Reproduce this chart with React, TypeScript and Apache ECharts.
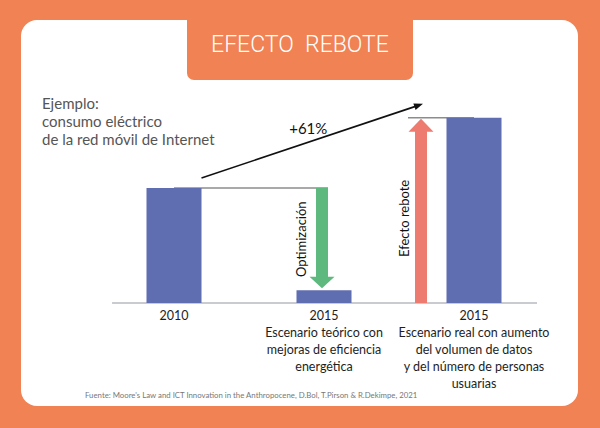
import React, { useEffect, useRef } from 'react';
import * as echarts from 'echarts';

const categories = ['2010', '2015 teórico', '2015 real'];
const yearLabels = ['2010', '2015', '2015'];
const scenarioLabels = [
  '',
  'Escenario teórico con\nmejoras de eficiencia\nenergética',
  'Escenario real con aumento\ndel volumen de datos\ny del número de personas\nusuarias',
];
const consumption = [100, 11, 161];
const changeLabel = '+61%';
const arrowLabels = ['Optimización', 'Efecto rebote'];
const titleText = 'EFECTO  REBOTE';
const introText = 'Ejemplo:\nconsumo eléctrico\nde la red móvil de Internet';
const sourceText =
  "Fuente: Moore's Law and ICT Innovation in the Anthropocene, D.Bol, T.Pirson & R.Dekimpe, 2021";

const ORANGE = '#F08253';
const BLUE = '#5F6DB1';
const GREEN = '#5DB97E';
const RED = '#EE7B70';
const BAR_W = 55;
const FONT = 'Lato';

function renderItem(params: any, api: any) {
  const band = api.size([1, 0])[0];
  const p0 = api.coord([0, consumption[0]]);
  const p1 = api.coord([1, consumption[1]]);
  const p2 = api.coord([2, consumption[2]]);
  const b0 = api.coord([0, 0]);
  const b2 = api.coord([2, 0]);
  const half = BAR_W / 2;
  const children: any[] = [];

  // baseline
  children.push({
    type: 'line',
    shape: { x1: b0[0] - 0.413 * band, y1: b0[1], x2: b2[0] + 0.42 * band, y2: b0[1] },
    style: { stroke: '#C9CBD1', lineWidth: 2 },
  });

  // green (optimisation) arrow
  const gx = p1[0] - 2;
  const gTip = p1[1] - 2;
  const gHead = 11.5;
  children.push({
    type: 'line',
    shape: { x1: p0[0], y1: p0[1], x2: gx + 6, y2: p0[1] },
    style: { stroke: '#8C8C8C', lineWidth: 1.5 },
  });
  children.push({
    type: 'polygon',
    shape: {
      points: [
        [gx - 6, p0[1]],
        [gx + 6, p0[1]],
        [gx + 6, gTip - gHead],
        [gx + 12.5, gTip - gHead],
        [gx, gTip],
        [gx - 12.5, gTip - gHead],
        [gx - 6, gTip - gHead],
      ],
    },
    style: { fill: GREEN },
  });
  children.push({
    type: 'text',
    x: gx - 21,
    y: (p0[1] + p1[1]) / 2,
    rotation: Math.PI / 2,
    style: {
      text: arrowLabels[0],
      fill: '#111',
      fontSize: 13,
      fontFamily: FONT,
      align: 'center',
      verticalAlign: 'middle',
      textAlign: 'center',
      textVerticalAlign: 'middle',
    },
  });

  // red (rebound) arrow
  const rx = p2[0] - 53;
  const rTip = p2[1] + 1;
  const rHead = 13;
  children.push({
    type: 'line',
    shape: { x1: rx - 13, y1: p2[1], x2: p2[0], y2: p2[1] },
    style: { stroke: '#8C8C8C', lineWidth: 1.5 },
  });
  children.push({
    type: 'polygon',
    shape: {
      points: [
        [rx - 6, b2[1]],
        [rx + 6, b2[1]],
        [rx + 6, rTip + rHead],
        [rx + 12.5, rTip + rHead],
        [rx, rTip],
        [rx - 12.5, rTip + rHead],
        [rx - 6, rTip + rHead],
      ],
    },
    style: { fill: RED },
  });
  children.push({
    type: 'text',
    x: rx - 17,
    y: (p2[1] + b2[1]) / 2 + 8,
    rotation: Math.PI / 2,
    style: {
      text: arrowLabels[1],
      fill: '#111',
      fontSize: 13,
      fontFamily: FONT,
      align: 'center',
      verticalAlign: 'middle',
      textAlign: 'center',
      textVerticalAlign: 'middle',
    },
  });

  // +61% arrow
  const sx = p0[0] + half;
  const sy = p0[1] - 10;
  const ex = rx + 2;
  const ey = p2[1] - 14;
  const len = Math.hypot(ex - sx, ey - sy);
  const dx = (ex - sx) / len;
  const dy = (ey - sy) / len;
  const hl = 9;
  const hw = 3.5;
  children.push({
    type: 'line',
    shape: { x1: sx, y1: sy, x2: ex - dx * 4, y2: ey - dy * 4 },
    style: { stroke: '#111', lineWidth: 1.6 },
  });
  children.push({
    type: 'polygon',
    shape: {
      points: [
        [ex, ey],
        [ex - dx * hl - dy * hw, ey - dy * hl + dx * hw],
        [ex - dx * hl + dy * hw, ey - dy * hl - dx * hw],
      ],
    },
    style: { fill: '#111' },
  });
  children.push({
    type: 'text',
    x: (sx + ex) / 2 - 4,
    y: (sy + ey) / 2 - 13,
    style: {
      text: changeLabel,
      fill: '#111',
      fontSize: 15,
      fontFamily: FONT,
      align: 'center',
      verticalAlign: 'middle',
      textAlign: 'center',
      textVerticalAlign: 'middle',
    },
  });

  return { type: 'group', children };
}

export default function App() {
  const ref = useRef<HTMLDivElement>(null);
  useEffect(() => {
    if (!ref.current) return;
    const chart = echarts.init(ref.current, undefined, { renderer: 'svg' });
    const option: any = {
      animation: false,
      backgroundColor: ORANGE,
      grid: { left: 99, right: 51, top: 73, bottom: 125 },
      xAxis: {
        type: 'category',
        data: categories,
        axisLine: { show: false },
        axisTick: { show: false },
        splitLine: { show: false },
        axisLabel: {
          interval: 0,
          margin: 4,
          color: '#1e1e1e',
          fontFamily: FONT,
          fontSize: 12.5,
          lineHeight: 17,
          formatter: (_v: string, i: number) =>
            yearLabels[i] + (scenarioLabels[i] ? '\n' + scenarioLabels[i] : ''),
        },
      },
      yAxis: { type: 'value', min: 0, max: 200, show: false },
      series: [
        {
          type: 'bar',
          data: consumption,
          barWidth: BAR_W,
          itemStyle: { color: BLUE },
          z: 3,
        },
        {
          type: 'custom',
          data: [[0, 0]],
          renderItem,
          silent: true,
          z: 2,
        },
      ],
      graphic: [
        {
          type: 'rect',
          z: 0,
          shape: { x: 21, y: 20, width: 557, height: 386, r: 16 },
          style: { fill: '#fff' },
        },
        {
          type: 'rect',
          z: 1,
          shape: { x: 187, y: 0, width: 226, height: 80, r: [0, 0, 7, 7] },
          style: { fill: ORANGE },
        },
        {
          type: 'text',
          z: 2,
          x: 300,
          y: 44,
          style: {
            text: titleText,
            fill: '#fff',
            fontSize: 23,
            fontWeight: 300,
            fontFamily: 'Roboto',
            align: 'center',
            verticalAlign: 'middle',
            textAlign: 'center',
            textVerticalAlign: 'middle',
          },
        },
        {
          type: 'text',
          z: 2,
          x: 42,
          y: 94,
          style: {
            text: introText,
            fill: '#555',
            fontSize: 15,
            lineHeight: 18,
            fontFamily: FONT,
            align: 'left',
            verticalAlign: 'top',
            textAlign: 'left',
            textVerticalAlign: 'top',
          },
        },
        {
          type: 'text',
          z: 2,
          x: 85,
          y: 395,
          style: {
            text: sourceText,
            fill: '#777',
            fontSize: 7.8,
            fontFamily: FONT,
            align: 'left',
            verticalAlign: 'middle',
            textAlign: 'left',
            textVerticalAlign: 'middle',
          },
        },
      ],
    };
    chart.setOption(option);
    return () => chart.dispose();
  }, []);
  return (
    <div
      ref={ref}
      style={{ position: 'absolute', left: 0, top: 0, width: 600, height: 428 }}
    />
  );
}
